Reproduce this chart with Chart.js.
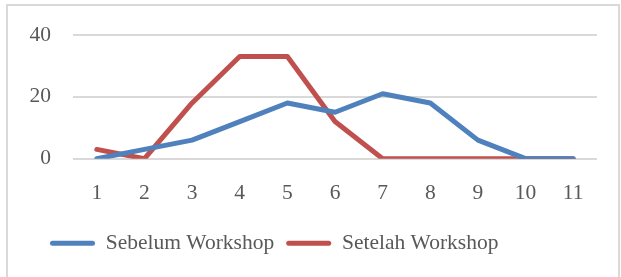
<!DOCTYPE html>
<html>
<head>
<meta charset="utf-8">
<script src="https://cdn.jsdelivr.net/npm/chart.js@4"></script>
<style>
  html, body { margin: 0; padding: 0; background: #fff; }
  #wrap { position: relative; width: 621px; height: 277px; }
  #frame { position: absolute; left: 6px; top: 4px; width: 614px; height: 290px; border: 2px solid #d9d9d9; box-sizing: border-box; }
  canvas { position: absolute; left: 0; top: 0; }
</style>
</head>
<body>
<div id="wrap">
  <div id="frame"></div>
  <canvas id="chart" width="621" height="277"></canvas>
</div>
<script>
// Data
const categories = ['1', '2', '3', '4', '5', '6', '7', '8', '9', '10', '11'];
const sebelum = [0, 3, 6, 12, 18, 15, 21, 18, 6, 0, 0];
const setelah = [3, 0, 18, 33, 33, 12, 0, 0, 0, 0, 0];
const yTicks = [0, 20, 40];

const textColor = '#595959';
const fontFamily = "'Liberation Serif', 'DejaVu Serif', serif";
const fontSize = 21.5;

// move the legend a bit to the left, like in the original
const legendShift = {
    id: 'legendShift',
    afterLayout(c) {
        c.legend.left = 38;
    }
};

let ctx = document.getElementById('chart').getContext('2d');
let chart = new Chart(ctx, {
    type: 'line',
    data: {
        labels: categories,
        datasets: [
            {
                label: 'Sebelum Workshop',
                data: sebelum,
                borderColor: '#4f81bd',
                backgroundColor: '#4f81bd',
                borderWidth: 5,
                pointRadius: 0,
                tension: 0,
                borderCapStyle: 'round',
                borderJoinStyle: 'round'
            },
            {
                label: 'Setelah Workshop',
                data: setelah,
                borderColor: '#c0504d',
                backgroundColor: '#c0504d',
                borderWidth: 5,
                pointRadius: 0,
                tension: 0,
                borderCapStyle: 'round',
                borderJoinStyle: 'round'
            }
        ]
    },
    options: {
        responsive: false,
        animation: false,
        layout: { padding: { left: 10, right: 24, top: 31, bottom: 13 } },
        scales: {
            x: {
                offset: true,
                grid: { display: false },
                border: { display: false },
                ticks: { color: textColor, font: { family: fontFamily, size: fontSize }, padding: 14, maxRotation: 0 }
            },
            y: {
                min: 0,
                max: 40,
                afterBuildTicks: (axis) => { axis.ticks = yTicks.map(v => ({ value: v })); },
                afterFit: (axis) => { axis.width = 63; },
                grid: { color: '#d9d9d9', lineWidth: 2, drawTicks: false },
                border: { display: false },
                ticks: { color: textColor, font: { family: fontFamily, size: fontSize }, padding: 22 }
            }
        },
        plugins: {
            legend: {
                position: 'bottom',
                align: 'start',
                labels: {
                    color: textColor,
                    font: { family: fontFamily, size: fontSize },
                    boxWidth: 45,
                    boxHeight: 5,
                    padding: 12,
                    useBorderRadius: true,
                    borderRadius: 2.5,
                    generateLabels: (c) => c.data.datasets.map((ds, i) => ({
                        text: ds.label,
                        fillStyle: ds.borderColor,
                        strokeStyle: ds.borderColor,
                        lineWidth: 0,
                        fontColor: textColor,
                        datasetIndex: i,
                        borderRadius: 2.5
                    }))
                }
            },
            tooltip: { enabled: false }
        }
    },
    plugins: [legendShift]
});
</script>
</body>
</html>
